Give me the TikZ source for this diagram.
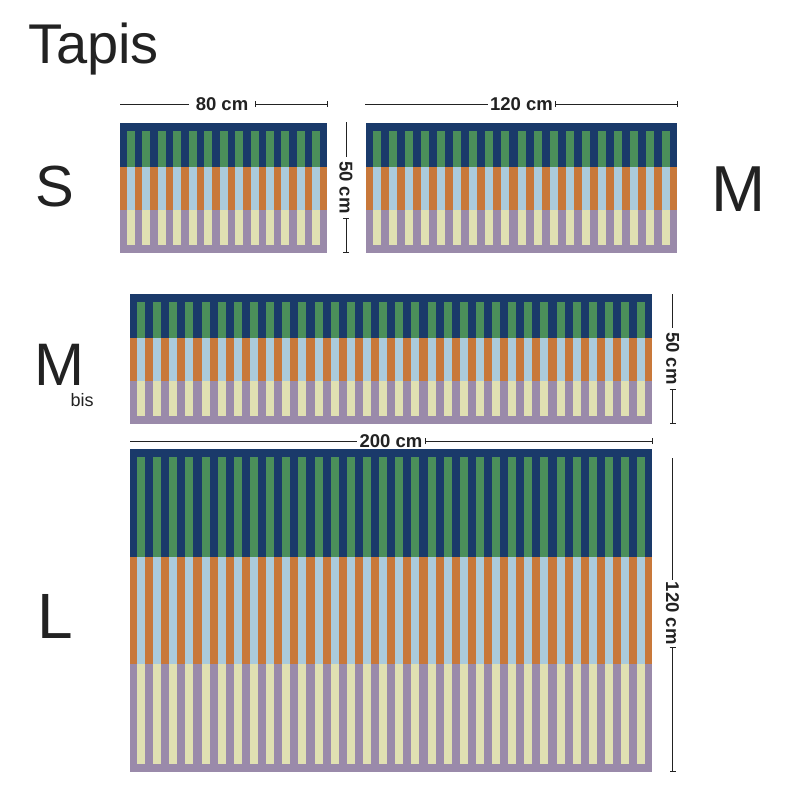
\documentclass[tikz,border=0pt]{standalone}
\usepackage{fontspec}
\setmainfont{Liberation Sans}
\usetikzlibrary{arrows.meta}
\definecolor{cnavy}{HTML}{1A3A6A}
\definecolor{cgreen}{HTML}{4B8F5A}
\definecolor{corange}{HTML}{C8783A}
\definecolor{clblue}{HTML}{ABCBDC}
\definecolor{cpurple}{HTML}{9A8AAA}
\definecolor{cyellow}{HTML}{E0E0B2}
\definecolor{cink}{HTML}{222222}
\newcommand{\rugdraw}[5]{%
  \pgfmathsetmacro{\rugX}{#1}\pgfmathsetmacro{\rugY}{#2}%
  \pgfmathsetmacro{\rugW}{#3}\pgfmathsetmacro{\rugH}{#4}%
  \pgfmathsetmacro{\rugT}{\rugH/3}%
  \pgfmathsetmacro{\rugP}{(\rugW-14-8)/(#5-1)}%
  \pgfmathtruncatemacro{\rugN}{#5-1}%
  \fill[cnavy] (\rugX,\rugY) rectangle ++(\rugW,\rugT);
  \fill[corange] (\rugX,\rugY+\rugT) rectangle ++(\rugW,\rugT);
  \fill[cpurple] (\rugX,\rugY+2*\rugT) rectangle ++(\rugW,\rugT);
  \foreach \k in {0,...,\rugN}{
    \pgfmathsetmacro{\rugSX}{\rugX+7+\k*\rugP}
    \fill[cgreen] (\rugSX,\rugY+8) rectangle (\rugSX+8,\rugY+\rugT);
    \fill[clblue] (\rugSX,\rugY+\rugT) rectangle (\rugSX+8,\rugY+2*\rugT);
    \fill[cyellow] (\rugSX,\rugY+2*\rugT) rectangle (\rugSX+8,\rugY+\rugH-8);
  }
}
\begin{document}
\begin{tikzpicture}[x=1pt,y=-1pt,
  dimline/.style={draw=cink,line width=1pt,{Bar[width=6pt,line width=1pt]}-{Bar[width=6pt,line width=1pt]}},
  dimlbl/.style={inner xsep=4pt,inner ysep=1pt,text=cink,font=\bfseries\fontsize{18.5}{18.5}\selectfont},
  vdimlbl/.style={dimlbl,rotate=-90},
  bigletter/.style={anchor=base west,inner sep=0pt,text=cink}]
\useasboundingbox (0,0) rectangle (800,800);
\fill[white] (0,0) rectangle (800,800);

% rugs
\rugdraw{120}{123.3}{207.3}{130}{13}
\rugdraw{365.7}{123.3}{311.6}{130}{19}
\rugdraw{130}{294.3}{522.3}{130}{32}
\rugdraw{130}{449.3}{522.3}{322.4}{32}

% titles
\node[bigletter,font=\fontsize{56}{56}\selectfont] (title) at (28,63.3) {Tapis};
\node[bigletter,font=\fontsize{58}{58}\selectfont] (lS) at (35.5,206) {S};
\node[bigletter,font=\fontsize{65}{65}\selectfont] (lM) at (711,211.7) {M};
\node[bigletter,font=\fontsize{60}{60}\selectfont] (lMb) at (34,385) {M};
\node[bigletter,font=\fontsize{18}{18}\selectfont] (lbis) at (70.5,406.7) {bis};
\node[bigletter,font=\fontsize{64}{64}\selectfont] (lL) at (37,638.3) {L};

% S: 80 cm
\coordinate (s80a) at (120,104);
\coordinate (s80b) at (328.3,104);
\node[dimlbl,inner xsep=7pt] (s80) at (222,104) {80 cm};
\draw[dimline] (s80a) -- (s80) -- (s80b);

% M: 120 cm
\coordinate (m120a) at (365,104);
\coordinate (m120b) at (678.3,104);
\node[dimlbl,inner xsep=2pt] (m120) at (521.5,104) {120 cm};
\draw[dimline] (m120a) -- (m120) -- (m120b);

% S: 50 cm
\coordinate (s50a) at (346,122.3);
\coordinate (s50b) at (346,253.3);
\node[vdimlbl] (s50) at (346,187.5) {50 cm};
\draw[dimline] (s50a) -- (s50) -- (s50b);

% Mbis: 50 cm
\coordinate (mb50a) at (672.7,294.3);
\coordinate (mb50b) at (672.7,424.3);
\node[vdimlbl] (mb50) at (672.7,358.3) {50 cm};
\draw[dimline] (mb50a) -- (mb50) -- (mb50b);

% L: 200 cm
\coordinate (l200a) at (130,441);
\coordinate (l200b) at (652.7,441);
\node[dimlbl,inner xsep=2pt] (l200) at (391,441) {200 cm};
\draw[dimline] (l200a) -- (l200) -- (l200b);

% L: 120 cm
\coordinate (l120a) at (672.5,458);
\coordinate (l120b) at (672.5,771.7);
\node[vdimlbl,inner xsep=2pt] (l120) at (672.5,613.3) {120 cm};
\draw[dimline] (l120a) -- (l120) -- (l120b);
\end{tikzpicture}
\end{document}
